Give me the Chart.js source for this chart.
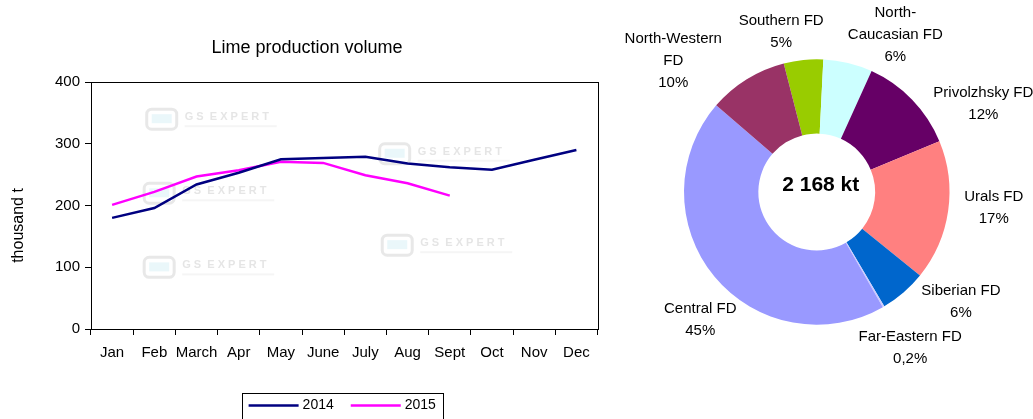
<!DOCTYPE html>
<html>
<head>
<meta charset="utf-8">
<script src="https://cdn.jsdelivr.net/npm/chart.js@4.4.0/dist/chart.umd.min.js"></script>
<style>
  body { margin: 0; background: #fff; }
  #wrap { position: relative; width: 1033px; height: 419px; overflow: hidden; }
  #lineChart { position: absolute; left: 0; top: 0; }
  #pieChart { position: absolute; left: 620px; top: 0; }
</style>
</head>
<body>
<div id="wrap">
  <canvas id="lineChart" width="614" height="419"></canvas>
  <canvas id="pieChart" width="413" height="419"></canvas>
</div>
<script>
// line chart data
var months = ['Jan', 'Feb', 'March', 'Apr', 'May', 'June', 'July', 'Aug', 'Sept', 'Oct', 'Nov', 'Dec'];
var prod2014 = [180, 196, 234, 253, 275, 277, 279, 268, 262, 258, 274, 290];
var prod2015 = [201, 222, 247, 257, 271, 269, 249, 236, 216];
var yTicks = [0, 100, 200, 300, 400];

// doughnut data (shares of total, %), clockwise from Southern FD
var regions = ['Southern FD', 'North-\nCaucasian FD', 'Privolzhsky FD', 'Urals FD', 'Siberian FD', 'Far-Eastern FD', 'Central FD', 'North-Western\nFD'];
var shares = [4.8, 6.0, 12.0, 17.1, 5.7, 0.2, 44.7, 9.7];
var shareText = ['5%', '6%', '12%', '17%', '6%', '0,2%', '45%', '10%'];
var totalText = '2 168 kt';

var fontFamily = '"Liberation Sans", Arial, sans-serif';

// faint "GS EXPERT" watermark stamp
function drawStamp(ctx, x, y) {
  ctx.save();
  ctx.globalAlpha = 0.55;
  ctx.strokeStyle = '#d6d6d6';
  ctx.lineWidth = 3;
  ctx.beginPath();
  ctx.roundRect(x, y, 30, 20, 5);
  ctx.stroke();
  ctx.fillStyle = '#d8f1f6';
  ctx.fillRect(x + 5, y + 5, 20, 9);
  ctx.fillStyle = '#d0d0d0';
  ctx.font = 'bold 11px ' + fontFamily;
  ctx.textAlign = 'left';
  ctx.textBaseline = 'middle';
  ctx.fillText('G S  E X P E R T', x + 38, y + 8);
  ctx.fillStyle = '#ececec';
  ctx.fillRect(x + 38, y + 16, 92, 2);
  ctx.restore();
}

var frameAndTitles = {
  id: 'frameAndTitles',
  beforeDatasetsDraw: function(chart) {
    var ctx = chart.ctx;
    var a = chart.chartArea;
    var w = a.right - a.left, h = a.bottom - a.top;
    [[0.11, 0.11], [0.57, 0.25], [0.105, 0.41], [0.575, 0.62], [0.105, 0.71]].forEach(function(s) {
      drawStamp(ctx, a.left + s[0] * w, a.top + s[1] * h);
    });
  },
  afterDraw: function(chart) {
    var ctx = chart.ctx;
    var area = chart.chartArea;
    ctx.save();
    // plot area frame
    ctx.strokeStyle = '#000';
    ctx.lineWidth = 1;
    ctx.strokeRect(Math.round(area.left) + 0.5, Math.round(area.top) + 0.5,
      Math.round(area.right - area.left), Math.round(area.bottom - area.top));

    ctx.fillStyle = '#000';
    ctx.textAlign = 'center';
    ctx.textBaseline = 'middle';
    ctx.font = '18px ' + fontFamily;
    ctx.fillText('Lime production volume', chart.width / 2, area.top - 34);

    // y axis title
    ctx.save();
    ctx.translate(19, (area.top + area.bottom) / 2 + 20);
    ctx.rotate(-Math.PI / 2);
    ctx.font = '16px ' + fontFamily;
    ctx.fillText('thousand t', 0, 0);
    ctx.restore();

    // boxed legend
    ctx.font = '14px ' + fontFamily;
    var sets = chart.data.datasets;
    var lineLen = 50, gap = 4, itemGap = 17, pad = 7;
    var total = pad * 2;
    sets.forEach(function(ds, i) {
      total += lineLen + gap + ctx.measureText(ds.label).width;
      if (i > 0) total += itemGap;
    });
    var x = (area.left + area.right) / 2 - 2 - total / 2;
    var top = area.bottom + 64;
    ctx.strokeRect(Math.round(x) + 0.5, Math.round(top) + 0.5, Math.round(total), 40);
    var ty = top + 12.5;
    x += pad;
    ctx.textAlign = 'left';
    sets.forEach(function(ds) {
      ctx.strokeStyle = ds.borderColor;
      ctx.lineWidth = 2.5;
      ctx.beginPath();
      ctx.moveTo(x, ty);
      ctx.lineTo(x + lineLen, ty);
      ctx.stroke();
      x += lineLen + gap;
      ctx.fillText(ds.label, x, ty);
      x += ctx.measureText(ds.label).width + itemGap;
    });
    ctx.restore();
  }
};

new Chart(document.getElementById('lineChart'), {
  type: 'line',
  data: {
    labels: months,
    datasets: [
      { label: '2014', data: prod2014, borderColor: '#000080', borderWidth: 2.5, pointRadius: 0, tension: 0, fill: false },
      { label: '2015', data: prod2015, borderColor: '#FF00FF', borderWidth: 2.5, pointRadius: 0, tension: 0, fill: false }
    ]
  },
  options: {
    responsive: false,
    animation: false,
    events: [],
    layout: { padding: { left: 0, right: 16.5, top: 82, bottom: 0 } },
    plugins: {
      legend: { display: false },
      title: { display: false },
      tooltip: { enabled: false }
    },
    scales: {
      x: {
        offset: true,
        grid: { offset: true, drawOnChartArea: false, drawTicks: true, tickLength: 6, tickColor: '#000' },
        border: { color: '#000', width: 1 },
        ticks: { color: '#000', font: { family: fontFamily, size: 15 }, padding: 9, maxRotation: 0, autoSkip: false },
        afterFit: function(scale) { scale.height = 90; }
      },
      y: {
        min: yTicks[0],
        max: yTicks[yTicks.length - 1],
        afterBuildTicks: function(scale) {
          scale.ticks = yTicks.map(function(v) { return { value: v }; });
        },
        grid: { drawOnChartArea: false, drawTicks: true, tickLength: 6, tickColor: '#000' },
        border: { color: '#000', width: 1 },
        ticks: { color: '#000', font: { family: fontFamily, size: 15 }, padding: 5 },
        afterFit: function(scale) { scale.width = 91; }
      }
    }
  },
  plugins: [frameAndTitles]
});

// label offsets from the slice's mid-angle point (Excel best-fit placement)
var labelNudge = [[-17.7, 16.8], [36.7, 15.7], [38.8, 35.5], [1.1, -9.9], [28, -25.1], [4, 1.9], [20.6, 14.3], [-49.8, 19.9]];

var pieLabels = {
  id: 'pieLabels',
  afterDraw: function(chart) {
    var ctx = chart.ctx;
    var arcs = chart.getDatasetMeta(0).data;
    ctx.save();
    ctx.fillStyle = '#000';
    ctx.textAlign = 'center';
    ctx.textBaseline = 'middle';
    ctx.font = '15px ' + fontFamily;
    arcs.forEach(function(arc, i) {
      var p = arc.getProps(['x', 'y', 'startAngle', 'endAngle', 'outerRadius']);
      var mid = (p.startAngle + p.endAngle) / 2;
      var r = p.outerRadius + 45;
      var cx = p.x + Math.cos(mid) * r + labelNudge[i][0];
      var cy = p.y + Math.sin(mid) * r + labelNudge[i][1];
      var lines = regions[i].split('\n').concat([shareText[i]]);
      var lh = 22;
      var y0 = cy - (lines.length - 1) * lh / 2;
      lines.forEach(function(t, j) {
        ctx.fillText(t, cx, y0 + j * lh);
      });
    });
    var c = arcs[0].getProps(['x', 'y']);
    ctx.font = 'bold 21px ' + fontFamily;
    ctx.fillText(totalText, c.x + 4, c.y - 7);
    ctx.restore();
  }
};

new Chart(document.getElementById('pieChart'), {
  type: 'doughnut',
  data: {
    labels: regions,
    datasets: [{
      data: shares,
      backgroundColor: ['#99CC00', '#CCFFFF', '#660066', '#FF8080', '#0066CC', '#CCCCFF', '#9999FF', '#993366'],
      borderWidth: 0
    }]
  },
  options: {
    responsive: false,
    animation: false,
    events: [],
    rotation: -14.4,
    cutout: '44%',
    layout: { padding: { left: 64, right: 83.5, top: 59, bottom: 94 } },
    plugins: {
      legend: { display: false },
      tooltip: { enabled: false }
    }
  },
  plugins: [pieLabels]
});
</script>
</body>
</html>
